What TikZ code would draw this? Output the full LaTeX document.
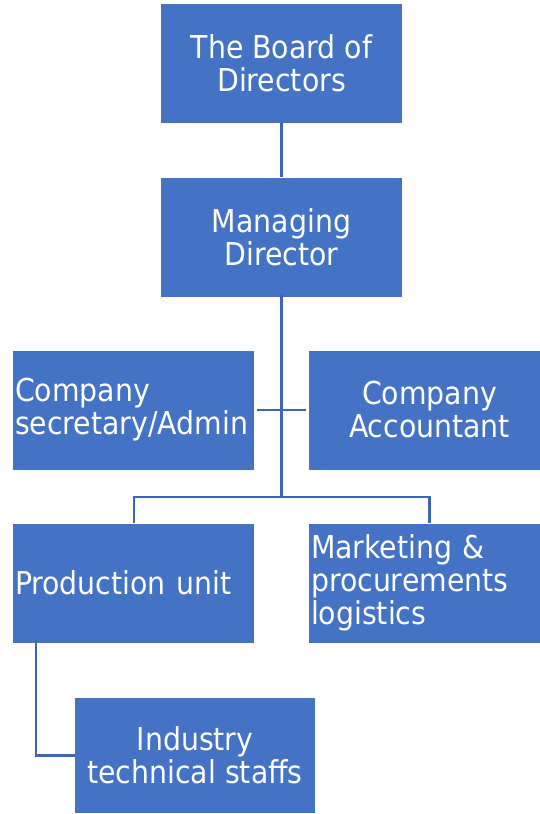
\documentclass[tikz,border=0pt]{standalone}
\usepackage{fontspec}
\setmainfont{DejaVu Sans}[FakeStretch=0.9]
\definecolor{boxblue}{HTML}{4472C4}
\definecolor{lineblue}{HTML}{3F67B6}
\tikzset{
  box/.style={draw=none, fill=boxblue, text=white, minimum width=241pt, minimum height=119pt,
    inner sep=2pt, font=\fontsize{31.5}{33}\selectfont},
  cbox/.style={box, align=center},
  lbox/.style={box, text width=237pt, align=left},
  conn/.style={draw=lineblue, line width=2.7pt}
}
\begin{document}
\begin{tikzpicture}[x=1pt,y=-1pt]
\useasboundingbox (0,0) rectangle (540,814);
\begin{scope}
\clip (0,0) rectangle (540,814);
\node[cbox] (board) at (281.5,63.5) {The Board of\\Directors};
\node[cbox] (md) at (281.5,237) {Managing\\Director};
\node[lbox] (sec) at (133.5,410) {Company\\secretary/Admin};
\node[cbox] (acc) at (429.5,410) {Company\\Accountant};
\node[lbox] (prod) at (133.5,583) {Production unit};
\node[lbox] (mkt) at (429.5,583) {Marketing \&\\procurements\\logistics};
\node[cbox, minimum width=240pt, minimum height=115pt] (ind) at (195,755.5) {Industry\\technical staffs};
\end{scope}
\coordinate (jb) at (281.5,497);
\draw[conn] (board.south) -- (md.north);
\draw[conn] ([yshift=3pt]md.south) -- (jb);
\draw[conn] ([xshift=3pt]sec.east |- 0,410) -- ([xshift=-3pt]acc.west);
\draw[conn] (prod.north -| 134,0) |- (jb) -| (mkt.north);
\draw[conn] ([yshift=4pt]prod.south -| 36,0) |- (ind.west);
\end{tikzpicture}
\end{document}
